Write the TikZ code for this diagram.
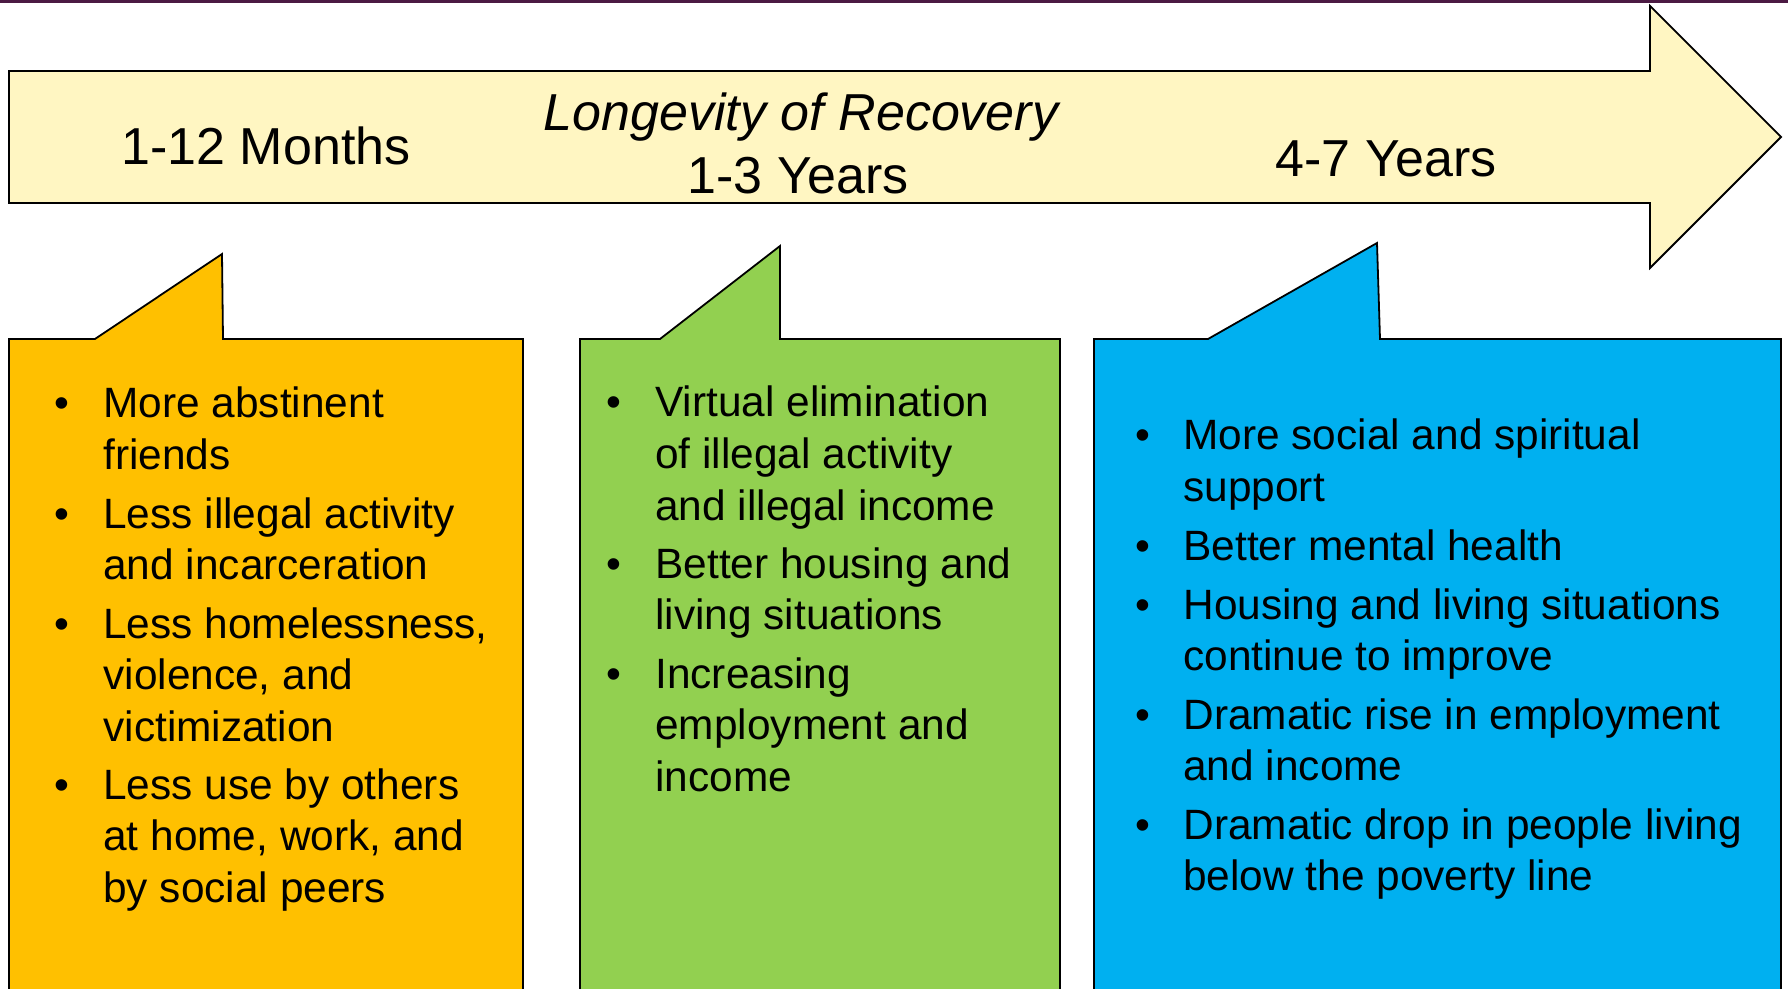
\documentclass[tikz,border=0pt]{standalone}
\usepackage{fontspec}
\setmainfont{Liberation Sans}
\definecolor{arrowfill}{HTML}{FFF6C2}
\definecolor{orangefill}{HTML}{FFC000}
\definecolor{greenfill}{HTML}{92D050}
\definecolor{bluefill}{HTML}{00B0F0}
\definecolor{topbar}{HTML}{4B1A43}
\newcommand{\itemlines}[1]{\begin{tabular}[t]{@{}l@{}}#1\end{tabular}}
\begin{document}
\begin{tikzpicture}[x=0.5pt,y=-0.5pt,
  shapeline/.style={draw=black,line width=0.9pt,line join=miter},
  titletext/.style={font=\fontsize{26}{31}\selectfont,inner sep=0pt,anchor=base},
  itemtext/.style={font=\fontsize{21.2}{25.75}\selectfont,inner sep=0pt,anchor=base west},
  bulletmark/.style={font=\fontsize{21.2}{25.75}\selectfont,inner sep=0pt,anchor=base}]
\useasboundingbox (0,0) rectangle (1788,989);
\clip (0,0) rectangle (1788,989);
\fill[white] (0,0) rectangle (1788,989);
\fill[topbar] (0,0) rectangle (1788,3);
% timeline arrow
\draw[shapeline,fill=arrowfill] (9,71) -- (1650,71) -- (1650,6) -- (1781,137) -- (1650,268) -- (1650,203) -- (9,203) -- cycle;
\node[titletext] (t1) at (266,165) {1-12 Months};
\node[titletext] (tl) at (801,131) {\itshape Longevity of Recovery};
\node[titletext] (t2) at (798,194) {1-3 Years};
\node[titletext] (t3) at (1386,177) {4-7 Years};
% callouts
\draw[shapeline,fill=orangefill] (9,1000) -- (9,339) -- (95,339) -- (222,254) -- (223,339) -- (523,339) -- (523,1000);
\draw[shapeline,fill=greenfill] (580,1000) -- (580,339) -- (660,339) -- (780,246) -- (780,339) -- (1060,339) -- (1060,1000);
\draw[shapeline,fill=bluefill] (1094,1000) -- (1094,339) -- (1208,339) -- (1377,243) -- (1380,339) -- (1781,339) -- (1781,1000);
% orange items
\node[bulletmark] (ob1) at (62,418) {\textbullet};
\node[itemtext] (oi1) at (103,418) {\itemlines{More abstinent\\friends}};
\node[bulletmark] (ob2) at (62,528) {\textbullet};
\node[itemtext] (oi2) at (103,528) {\itemlines{Less illegal activity\\and incarceration}};
\node[bulletmark] (ob3) at (62,638) {\textbullet};
\node[itemtext] (oi3) at (103,638) {\itemlines{Less homelessness,\\violence, and\\victimization}};
\node[bulletmark] (ob4) at (62,799) {\textbullet};
\node[itemtext] (oi4) at (103,799) {\itemlines{Less use by others\\at home, work, and\\by social peers}};
% green items
\node[bulletmark] (gb1) at (614,417) {\textbullet};
\node[itemtext] (gi1) at (655,417) {\itemlines{Virtual elimination\\of illegal activity\\and illegal income}};
\node[bulletmark] (gb2) at (614,578) {\textbullet};
\node[itemtext] (gi2) at (655,578) {\itemlines{Better housing and\\living situations}};
\node[bulletmark] (gb3) at (614,688) {\textbullet};
\node[itemtext] (gi3) at (655,688) {\itemlines{Increasing\\employment and\\income}};
% blue items
\node[bulletmark] (bb1) at (1143,450) {\textbullet};
\node[itemtext] (bi1) at (1183,450) {\itemlines{More social and spiritual\\support}};
\node[bulletmark] (bb2) at (1143,560) {\textbullet};
\node[itemtext] (bi2) at (1183,560) {\itemlines{Better mental health}};
\node[bulletmark] (bb3) at (1143,619) {\textbullet};
\node[itemtext] (bi3) at (1183,619) {\itemlines{Housing and living situations\\continue to improve}};
\node[bulletmark] (bb4) at (1143,729) {\textbullet};
\node[itemtext] (bi4) at (1183,729) {\itemlines{Dramatic rise in employment\\and income}};
\node[bulletmark] (bb5) at (1143,839) {\textbullet};
\node[itemtext] (bi5) at (1183,839) {\itemlines{Dramatic drop in people living\\below the poverty line}};
\end{tikzpicture}
\end{document}
